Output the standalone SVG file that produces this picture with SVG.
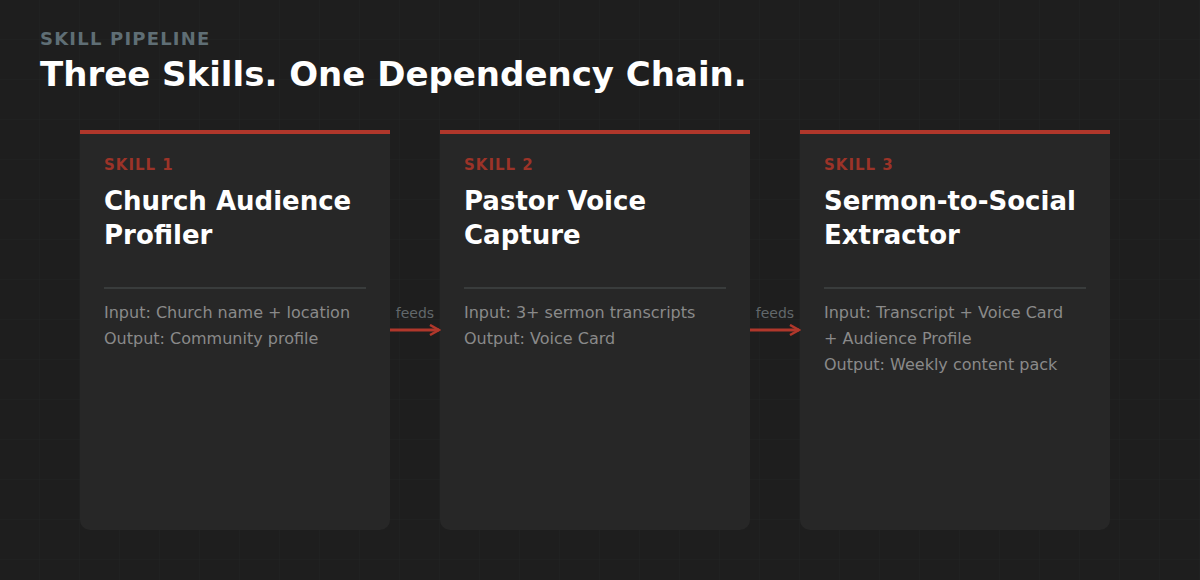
<svg xmlns="http://www.w3.org/2000/svg" width="1200" height="580" viewBox="0 0 1200 580">
<defs>
<pattern id="grid" width="40" height="40" patternUnits="userSpaceOnUse">
<path d="M40 0V40M0 40H40" fill="none" stroke="#222323" stroke-width="1"/>
</pattern>
<marker id="arr" markerWidth="12" markerHeight="12" refX="10" refY="6" orient="auto" markerUnits="userSpaceOnUse">
<path d="M1 1L10 6L1 11" fill="none" stroke="#b0372b" stroke-width="2.5"/>
</marker>
<style>
text{font-family:"DejaVu Sans",sans-serif}
.card{fill:#272727}
.bar{fill:#b0372b}
.kicker{font-size:15px;font-weight:bold;fill:#9c3328;letter-spacing:1px}
.title{font-size:26px;font-weight:bold;fill:#ffffff}
.div{stroke:#393c3c;stroke-width:2}
.body{font-size:16px;fill:#8a8a8a}
.feeds{font-size:14px;fill:#62686b;text-anchor:middle}
.conn{stroke:#b0372b;stroke-width:3;fill:none}
</style>
</defs>
<rect width="1200" height="580" fill="#1e1e1e"/>
<rect width="1200" height="580" fill="url(#grid)"/>
<text x="40" y="45" font-size="18" font-weight="bold" fill="#5f6e75" letter-spacing="1.2">SKILL PIPELINE</text>
<text x="40" y="86" font-size="34" font-weight="bold" fill="#ffffff">Three Skills. One Dependency Chain.</text>
<g id="skill1">
<path class="card" d="M80 130H390V520a10 10 0 0 1-10 10H90a10 10 0 0 1-10-10Z"/>
<rect class="bar" x="80" y="130" width="310" height="4"/>
<text class="kicker" x="104" y="170">SKILL 1</text>
<text class="title" x="104" y="210">Church Audience</text>
<text class="title" x="104" y="244">Profiler</text>
<line class="div" x1="104" y1="288" x2="366" y2="288"/>
<text class="body" x="104" y="318">Input: Church name + location</text>
<text class="body" x="104" y="344">Output: Community profile</text>
</g>
<g id="skill2">
<path class="card" d="M440 130H750V520a10 10 0 0 1-10 10H450a10 10 0 0 1-10-10Z"/>
<rect class="bar" x="440" y="130" width="310" height="4"/>
<text class="kicker" x="464" y="170">SKILL 2</text>
<text class="title" x="464" y="210">Pastor Voice</text>
<text class="title" x="464" y="244">Capture</text>
<line class="div" x1="464" y1="288" x2="726" y2="288"/>
<text class="body" x="464" y="318">Input: 3+ sermon transcripts</text>
<text class="body" x="464" y="344">Output: Voice Card</text>
</g>
<g id="skill3">
<path class="card" d="M800 130H1110V520a10 10 0 0 1-10 10H810a10 10 0 0 1-10-10Z"/>
<rect class="bar" x="800" y="130" width="310" height="4"/>
<text class="kicker" x="824" y="170">SKILL 3</text>
<text class="title" x="824" y="210">Sermon-to-Social</text>
<text class="title" x="824" y="244">Extractor</text>
<line class="div" x1="824" y1="288" x2="1086" y2="288"/>
<text class="body" x="824" y="318">Input: Transcript + Voice Card</text>
<text class="body" x="824" y="344">+ Audience Profile</text>
<text class="body" x="824" y="370">Output: Weekly content pack</text>
</g>
<g id="connectors">
<line class="conn" x1="390" y1="330" x2="439" y2="330" marker-end="url(#arr)"/>
<text class="feeds" x="415" y="318">feeds</text>
<line class="conn" x1="750" y1="330" x2="799" y2="330" marker-end="url(#arr)"/>
<text class="feeds" x="775" y="318">feeds</text>
</g>
</svg>
